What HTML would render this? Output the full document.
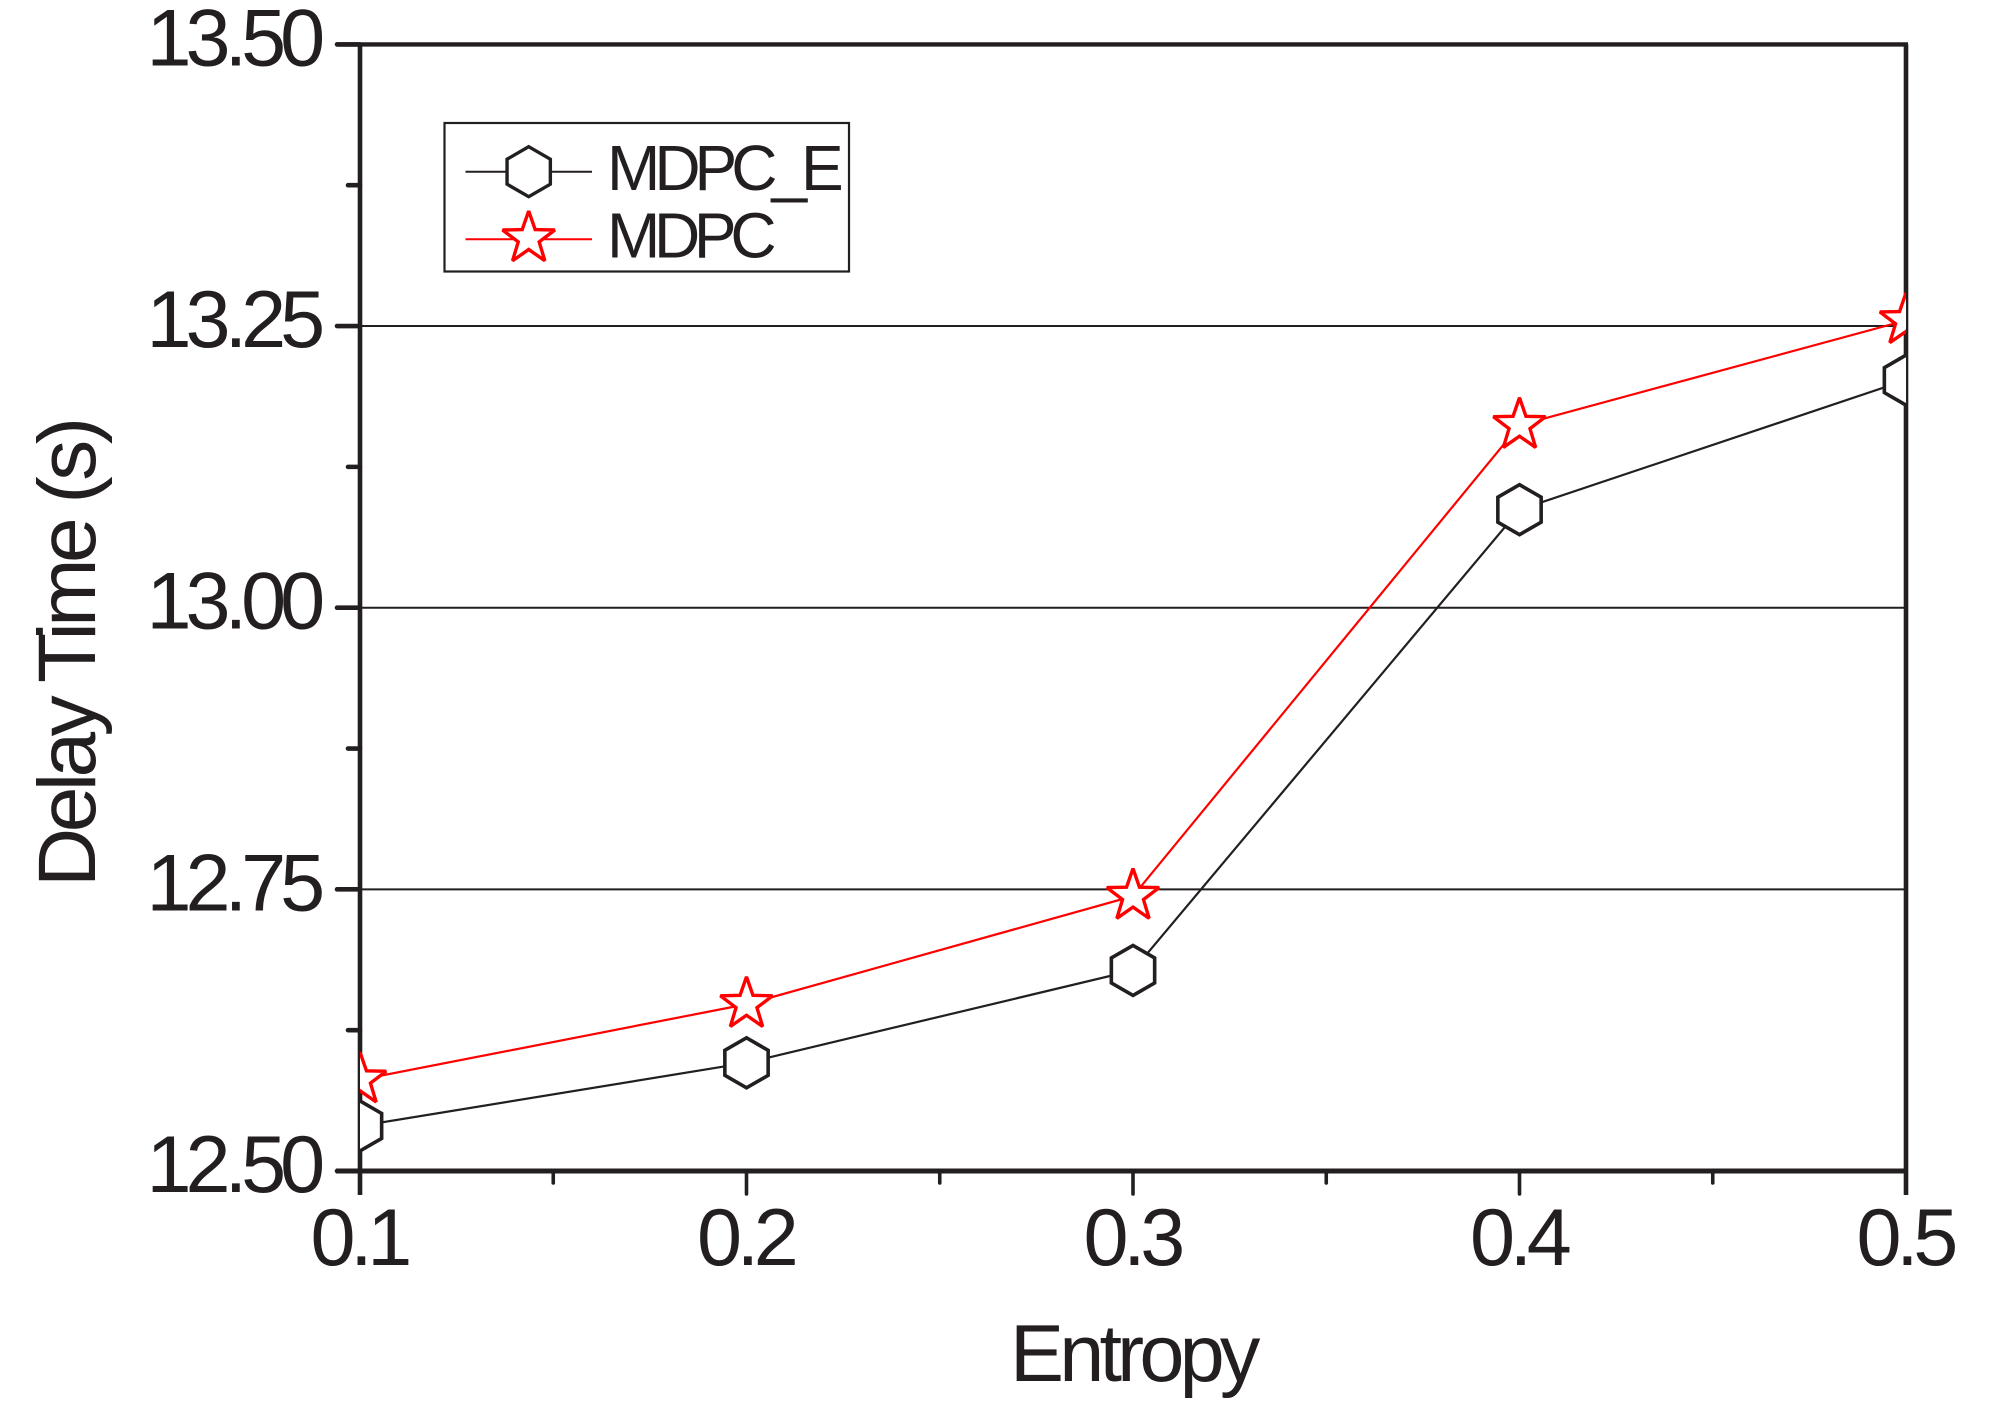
<!DOCTYPE html>
<html lang="en">
<head>
<meta charset="utf-8">
<title>Delay Time vs Entropy</title>
<style>
html,body{margin:0;padding:0;background:#fff;}
svg{display:block;}
text{font-family:"Liberation Sans",Arial,sans-serif;fill:#231f20;}
</style>
</head>
<body>
<svg id="chart" xmlns="http://www.w3.org/2000/svg" width="1997" height="1416" viewBox="0 0 1997 1416">
<defs><clipPath id="plot-clip"><rect x="360" y="44" width="1546" height="1128"></rect></clipPath></defs>
<rect x="0" y="0" width="1997" height="1416" fill="#ffffff"></rect>
<g id="grid"></g>
<g id="axes"></g>
<g id="series" clip-path="url(#plot-clip)"></g>
<text x="1010" y="1381" font-size="81" letter-spacing="-4.8">Entropy</text>
<text transform="translate(95,887) rotate(-90)" x="0" y="0" font-size="82" letter-spacing="-4.5">Delay Time (s)</text>
<g id="legend">
<rect x="444.5" y="123" width="404.5" height="148.5" fill="#ffffff" stroke="#231f20" stroke-width="2.2"></rect>
<line x1="465.5" x2="592" y1="171.7" y2="171.7" stroke="#231f20" stroke-width="2"></line>
<polygon id="legend-hex" fill="#ffffff" stroke="#231f20" stroke-width="3.4"></polygon>
<text x="607" y="190" font-size="64" letter-spacing="-6">MDPC_E</text>
<line x1="465.5" x2="592" y1="239.3" y2="239.3" stroke="#ff0000" stroke-width="2"></line>
<polygon id="legend-star" fill="#ffffff" stroke="#ff0000" stroke-width="3.4" stroke-miterlimit="2.5"></polygon>
<text x="607" y="257.7" font-size="64" letter-spacing="-6.3">MDPC</text>
</g>
</svg>
<script>
const xCategories = [0.1, 0.2, 0.3, 0.4, 0.5];
const xMinorTicks = [0.15, 0.25, 0.35, 0.45];
const xTickLabels = ["0.1", "0.2", "0.3", "0.4", "0.5"];
const yMajorTicks = [12.5, 12.75, 13, 13.25, 13.5];
const yMinorTicks = [12.625, 12.875, 13.125, 13.375];
const yTickLabels = ["12.50", "12.75", "13.00", "13.25", "13.50"];
const gridValues = [12.75, 13, 13.25];
const mdpcEValues = [12.54, 12.596, 12.678, 13.087, 13.202];
const mdpcValues = [12.581, 12.648, 12.744, 13.162, 13.255];

const NS = "http://www.w3.org/2000/svg";
const X0 = 360, X1 = 1906, XMIN = 0.1, XMAX = 0.5;
const Y0 = 1171, Y1 = 44.4, YMIN = 12.5, YMAX = 13.5;
const INK = "#231f20";
function xScale(v) { return X0 + (v - XMIN) / (XMAX - XMIN) * (X1 - X0); }
function yScale(v) { return Y0 + (v - YMIN) / (YMAX - YMIN) * (Y1 - Y0); }

function mk(parent, tag, attrs) {
  const el = document.createElementNS(NS, tag);
  for (const k in attrs) el.setAttribute(k, attrs[k]);
  parent.appendChild(el);
  return el;
}
function hexPoints(cx, cy, r) {
  const p = [];
  for (let i = 0; i < 6; i++) {
    const a = Math.PI / 3 * i;
    p.push((cx + r * Math.sin(a)).toFixed(2) + "," + (cy - r * Math.cos(a)).toFixed(2));
  }
  return p.join(" ");
}
function starPoints(cx, cy, R) {
  const p = [];
  for (let i = 0; i < 10; i++) {
    const a = Math.PI / 5 * i;
    const r = i % 2 ? R * 0.4 : R;
    p.push((cx + r * Math.sin(a)).toFixed(2) + "," + (cy - r * Math.cos(a)).toFixed(2));
  }
  return p.join(" ");
}

const gridG = document.getElementById("grid");
const axesG = document.getElementById("axes");
const seriesG = document.getElementById("series");

gridValues.forEach(function (v) {
  const l = mk(gridG, "line", { x1: X0, x2: X1, y1: yScale(v), y2: yScale(v), stroke: INK, "stroke-width": 2 });
  
  
});

const frame = [
  ["x-axis-line", X0 - 24, Y0, X1 + 2, Y0, 5],
  ["top-axis-line", X0 - 24, Y1, X1 + 2, Y1, 4.4],
  ["y-axis-line", X0, Y1, X0, Y0 + 24, 4.6],
  ["right-axis-line", X1, Y1, X1, Y0 + 24, 4.6]
];
frame.forEach(function (f) {
  const l = mk(axesG, "line", { x1: f[1], y1: f[2], x2: f[3], y2: f[4], stroke: INK, "stroke-width": f[5] });
  
  
});

yMajorTicks.forEach(function (v, i) {
  const y = yScale(v);
  const t = mk(axesG, "line", { x1: X0 - 23, x2: X0, y1: y, y2: y, stroke: INK, "stroke-width": 4.6, "stroke-linecap": "round" });
  
  
  const lab = mk(axesG, "text", { x: 146.5, y: y + 21, "font-size": 81, "letter-spacing": -6 });
  lab.textContent = yTickLabels[i];
  
  
});
yMinorTicks.forEach(function (v) {
  const y = yScale(v);
  const t = mk(axesG, "line", { x1: X0 - 12, x2: X0, y1: y, y2: y, stroke: INK, "stroke-width": 4.6, "stroke-linecap": "round" });
  
  
});
xCategories.forEach(function (v, i) {
  const x = xScale(v);
  if (i > 0 && i < xCategories.length - 1) {
    const t = mk(axesG, "line", { x1: x, x2: x, y1: Y0, y2: Y0 + 23, stroke: INK, "stroke-width": 3.6, "stroke-linecap": "round" });
    
    
  }
  const lab = mk(axesG, "text", { x: x - 49.5, y: 1265, "font-size": 81, "letter-spacing": -5.4 });
  lab.textContent = xTickLabels[i];
  
  
});
xMinorTicks.forEach(function (v) {
  const x = xScale(v);
  const t = mk(axesG, "line", { x1: x, x2: x, y1: Y0, y2: Y0 + 12, stroke: INK, "stroke-width": 3.6, "stroke-linecap": "round" });
  
  
});

function linePoints(vals) {
  return vals.map(function (v, i) { return xScale(xCategories[i]).toFixed(2) + "," + yScale(v).toFixed(2); }).join(" ");
}

const lineE = mk(seriesG, "polyline", { points: linePoints(mdpcEValues), fill: "none", stroke: INK, "stroke-width": 2.2 });


mdpcEValues.forEach(function (v, i) {
  const m = mk(seriesG, "polygon", { points: hexPoints(xScale(xCategories[i]), yScale(v), 25), fill: "#ffffff", stroke: INK, "stroke-width": 3.6 });
  
  
});
const lineM = mk(seriesG, "polyline", { points: linePoints(mdpcValues), fill: "none", stroke: "#ff0000", "stroke-width": 2.2 });


mdpcValues.forEach(function (v, i) {
  const m = mk(seriesG, "polygon", { points: starPoints(xScale(xCategories[i]), yScale(v), 27.5), fill: "#ffffff", stroke: "#ff0000", "stroke-width": 3.4, "stroke-miterlimit": 2.5 });
  
  
});

document.getElementById("legend-hex").setAttribute("points", hexPoints(528.7, 171.7, 25));
document.getElementById("legend-star").setAttribute("points", starPoints(528.7, 238.5, 27.5));
</script>
</body>
</html>
